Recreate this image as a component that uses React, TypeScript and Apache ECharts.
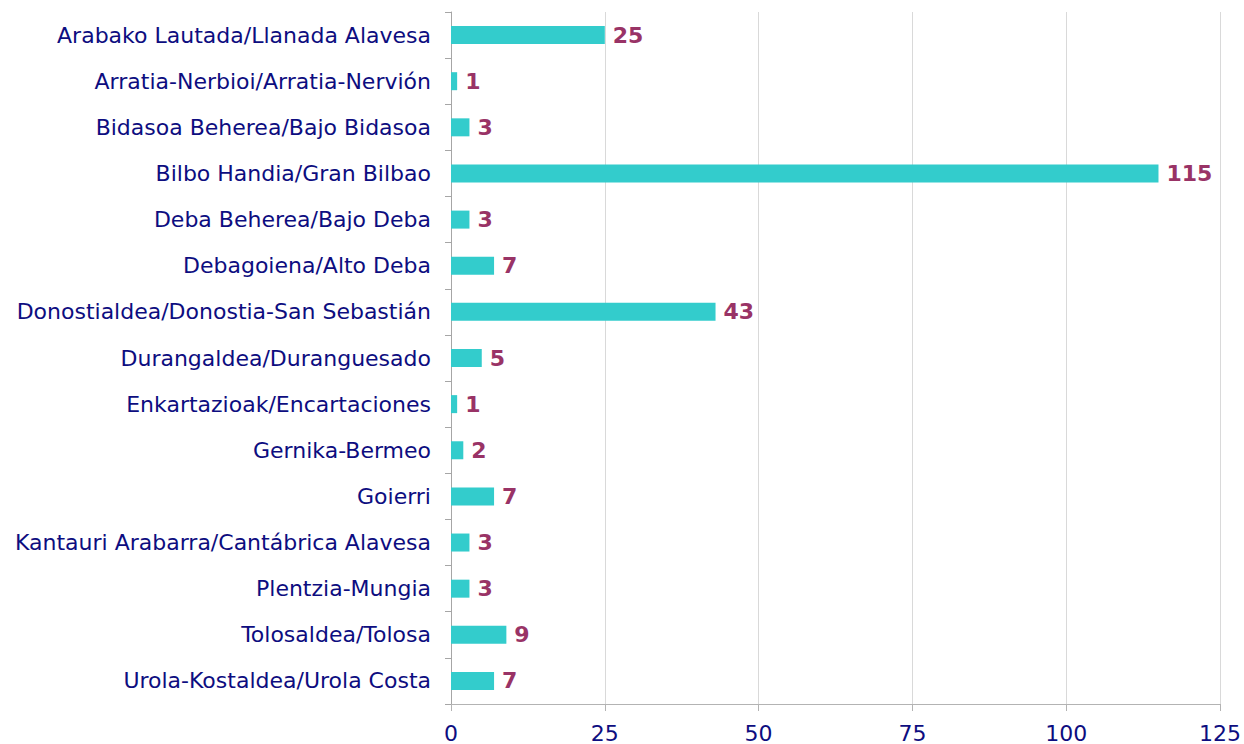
import React, { useEffect, useRef } from "react";
import * as echarts from "echarts";

const categories = [
  "Arabako Lautada/Llanada Alavesa",
  "Arratia-Nerbioi/Arratia-Nervión",
  "Bidasoa Beherea/Bajo Bidasoa",
  "Bilbo Handia/Gran Bilbao",
  "Deba Beherea/Bajo Deba",
  "Debagoiena/Alto Deba",
  "Donostialdea/Donostia-San Sebastián",
  "Durangaldea/Duranguesado",
  "Enkartazioak/Encartaciones",
  "Gernika-Bermeo",
  "Goierri",
  "Kantauri Arabarra/Cantábrica Alavesa",
  "Plentzia-Mungia",
  "Tolosaldea/Tolosa",
  "Urola-Kostaldea/Urola Costa",
];
const values = [25, 1, 3, 115, 3, 7, 43, 5, 1, 2, 7, 3, 3, 9, 7];

export default function App() {
  const ref = useRef<HTMLDivElement>(null);
  useEffect(() => {
    const chart = echarts.init(ref.current!, null, { renderer: "svg" });
    const font = "Verdana, 'DejaVu Sans', sans-serif";
    chart.setOption({
      animation: false,
      grid: { left: 451, right: 22, top: 12, bottom: 40, containLabel: false },
      xAxis: {
        type: "value",
        min: 0,
        max: 125,
        interval: 25,
        axisLine: { show: true, lineStyle: { color: "#b3b3b3" } },
        axisTick: { show: true, length: 7, lineStyle: { color: "#b3b3b3" } },
        splitLine: { show: true, lineStyle: { color: "#d9d9d9" } },
        axisLabel: { color: "#0d0d80", fontSize: 22, fontFamily: font, margin: 18 },
      },
      yAxis: {
        type: "category",
        data: categories,
        inverse: true,
        axisLine: { show: true, lineStyle: { color: "#a6a6a6" } },
        axisTick: { show: true, length: 6, lineStyle: { color: "#a6a6a6" } },
        axisLabel: { color: "#0d0d80", fontSize: 22, fontFamily: font, margin: 20 },
      },
      series: [
        {
          type: "bar",
          data: values,
          barWidth: 18,
          itemStyle: { color: "#33cccc" },
          label: {
            show: true,
            position: "right",
            distance: 8,
            color: "#993366",
            fontWeight: "bold",
            fontSize: 22,
            fontFamily: font,
          },
        },
      ],
    });
    return () => chart.dispose();
  }, []);
  return <div ref={ref} style={{ width: 1244, height: 744, position: "absolute", left: 0, top: 0 }} />;
}
